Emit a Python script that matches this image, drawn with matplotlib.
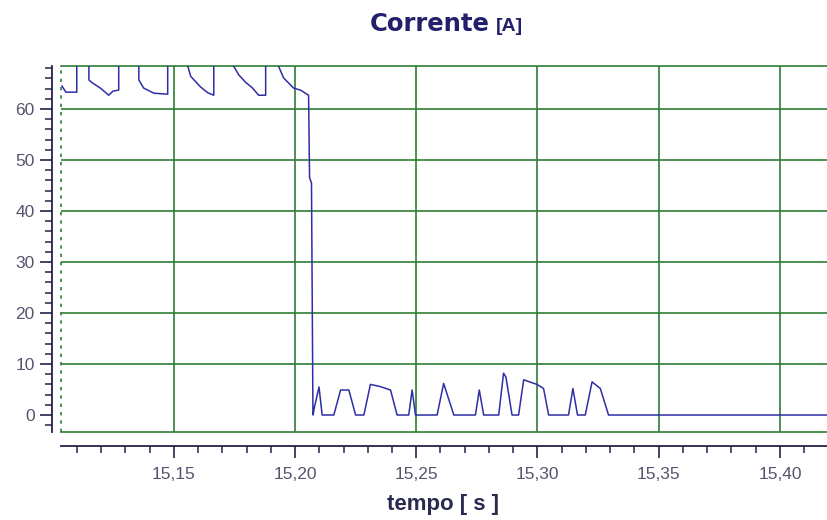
import numpy as np
import matplotlib
matplotlib.use("Agg")
import matplotlib.pyplot as plt
from matplotlib.ticker import MultipleLocator, FuncFormatter

# corrente [A] vs tempo [s]
tempo = [15.1039, 15.1055, 15.1100, 15.1100, 15.1150, 15.1150, 15.1162, 15.1200,
         15.1232, 15.1249, 15.1273, 15.1273, 15.1356, 15.1356, 15.1376, 15.1418,
         15.1475, 15.1475, 15.1549, 15.1558, 15.1570, 15.1611, 15.1640, 15.1665,
         15.1665, 15.1739, 15.1747, 15.1768, 15.1797, 15.1825, 15.1850, 15.1879,
         15.1879, 15.1924, 15.1932, 15.1953, 15.1994, 15.2023, 15.2056, 15.2060,
         15.2068, 15.2074, 15.2080, 15.2099, 15.2112, 15.2160, 15.2188, 15.2222,
         15.2250, 15.2284, 15.2311, 15.2350, 15.2394, 15.2421, 15.2469, 15.2483,
         15.2497, 15.2586, 15.2613, 15.2655, 15.2744, 15.2760, 15.2778, 15.2840,
         15.2860, 15.2870, 15.2895, 15.2922, 15.2943, 15.2998, 15.3025, 15.3046,
         15.3128, 15.3146, 15.3165, 15.3197, 15.3225, 15.3259, 15.3293, 15.4198]
corrente = [64.5, 63.3, 63.3, 75.0, 75.0, 65.7, 65.2, 64.0,
            62.7, 63.5, 63.7, 75.0, 75.0, 65.7, 64.1, 63.1,
            62.9, 75.0, 75.0, 68.4, 66.4, 64.3, 63.2, 62.7,
            75.0, 75.0, 68.4, 66.7, 65.2, 64.1, 62.7, 62.7,
            75.0, 75.0, 68.4, 66.1, 64.1, 63.7, 62.7, 46.5,
            45.5, 0.0, 1.5, 5.5, 0.0, 0.0, 4.9, 4.9,
            0.0, 0.0, 6.0, 5.6, 4.9, 0.0, 0.0, 4.9,
            0.0, 0.0, 6.2, 0.0, 0.0, 4.9, 0.0, 0.0,
            8.2, 7.4, 0.0, 0.0, 6.9, 6.0, 5.2, 0.0,
            0.0, 5.2, 0.0, 0.0, 6.5, 5.2, 0.0, 0.0]

x_range = (15.1035, 15.4198)
y_range = (-3.33, 68.43)
y_major = [0, 10, 20, 30, 40, 50, 60]
x_major = [15.15, 15.20, 15.25, 15.30, 15.35, 15.40]

title_text = "Corrente"
title_unit = "[A]"
x_label = "tempo [ s ]"

GREEN = "#2f7d34"
AXIS = "#23234a"
TICKTXT = "#55556f"


def comma_fmt(v, pos):
    return ("%.2f" % v).replace(".", ",")


def main():
    plt.rcParams['font.family'] = ['Liberation Sans', 'DejaVu Sans']
    fig = plt.figure(figsize=(8.28, 5.2), dpi=100)
    ax = fig.add_axes([61 / 828, 1 - 432 / 520, 1 - 61 / 828, (432 - 66) / 520])

    # grid, no line at 0
    for xv in x_major:
        ax.axvline(xv, color=GREEN, lw=1.2, zorder=1)
    for yv in y_major[1:]:
        ax.axhline(yv, color=GREEN, lw=1.2, zorder=1)

    ax.plot(tempo, corrente, color="#2e2ea6", lw=1.1, zorder=3)

    ax.set_xlim(*x_range)
    ax.set_ylim(*y_range)

    ax.set_xticks(x_major)
    ax.xaxis.set_minor_locator(MultipleLocator(0.01))
    ax.xaxis.set_major_formatter(FuncFormatter(comma_fmt))
    ax.set_yticks(y_major)
    ax.yaxis.set_minor_locator(MultipleLocator(2))

    # spines
    ax.spines["right"].set_visible(False)
    ax.spines["top"].set_color(GREEN)
    ax.spines["top"].set_linewidth(1.2)
    ax.spines["left"].set_position(("outward", 6.5))
    ax.spines["left"].set_color(AXIS)
    ax.spines["left"].set_linewidth(1.3)
    ax.spines["bottom"].set_position(("outward", 10))
    ax.spines["bottom"].set_color(AXIS)
    ax.spines["bottom"].set_linewidth(1.3)

    # plot frame: solid bottom, dashed left
    ax.plot([0, 1], [0, 0], transform=ax.transAxes, color=GREEN, lw=1.2, clip_on=False)
    ax.plot([0, 0], [0, 1], transform=ax.transAxes, color=GREEN, lw=1.2,
            ls=(0, (2, 3)), clip_on=False)

    ax.tick_params(axis="both", which="major", direction="out", length=8.5, width=1.2,
                   color=AXIS, labelsize=12.5, labelcolor=TICKTXT)
    ax.tick_params(axis="both", which="minor", direction="out", length=5, width=1.1,
                   color=AXIS)
    ax.tick_params(axis="x", which="major", pad=7)
    ax.tick_params(axis="y", which="major", pad=4)

    fig.text(490 / 828, 1 - 31 / 520, title_text, ha="right", va="baseline",
             fontsize=17.5, fontweight="bold", color="#22206a", family="DejaVu Sans")
    fig.text(496 / 828, 1 - 31 / 520, title_unit, ha="left", va="baseline",
             fontsize=14, fontweight="bold", color="#22206a")
    fig.text(443 / 828, 1 - 510 / 520, x_label, ha="center", va="baseline",
             fontsize=16, fontweight="bold", color="#2a2a50")

    fig.savefig("out.png", dpi=100)


if __name__ == "__main__":
    main()
